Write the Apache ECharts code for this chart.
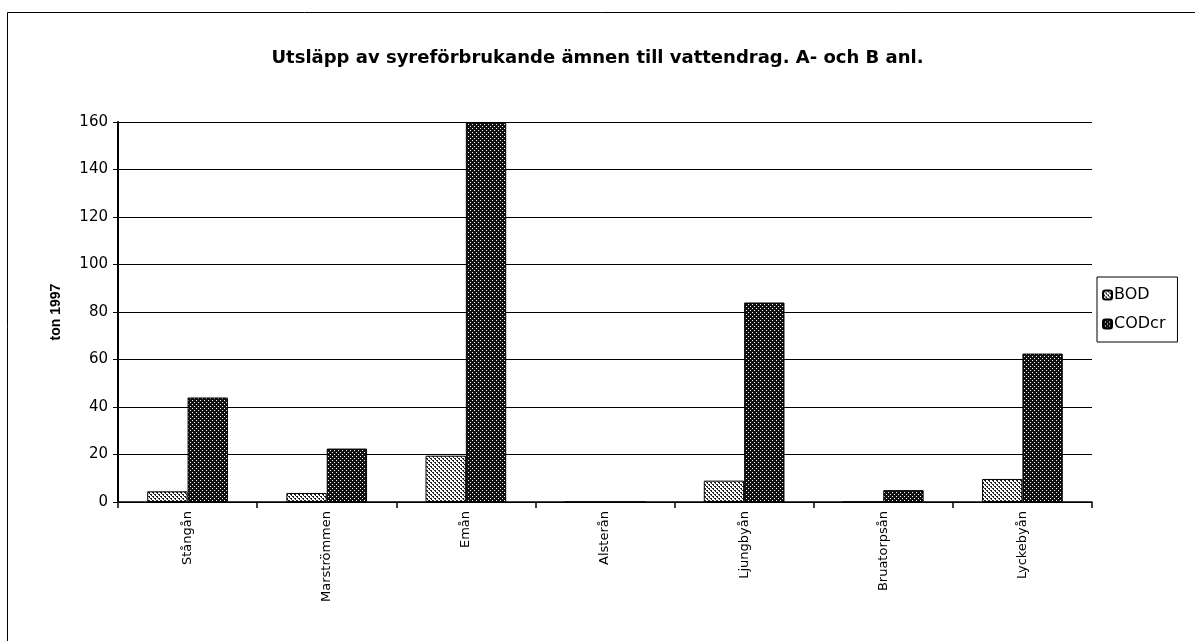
<!DOCTYPE html>
<html>
<head>
<meta charset="utf-8">
<script src="https://cdn.jsdelivr.net/npm/echarts@6/dist/echarts.min.js"></script>
<style>
  html, body { margin: 0; padding: 0; background: #fff; }
  #chart { width: 1195px; height: 641px; }
</style>
</head>
<body>
<div id="chart"></div>
<script>
var categories = ['Stångån', 'Marströmmen', 'Emån', 'Alsterån', 'Ljungbyån', 'Bruatorpsån', 'Lyckebyån'];
var bod = [4.5, 3.8, 19.5, 0, 9, 0, 9.7];
var codcr = [44, 22.5, 160, 0, 84, 5, 62.5];
var yTicks = [0, 20, 40, 60, 80, 100, 120, 140, 160];

// scanned-print style fills
function hatch(dark) {
  var c = document.createElement('canvas');
  c.width = 4; c.height = 4;
  var g = c.getContext('2d');
  g.fillStyle = dark ? '#111' : '#fff';
  g.fillRect(0, 0, 4, 4);
  g.fillStyle = dark ? '#fff' : '#222';
  if (dark) {
    g.fillRect(0, 0, 1, 1);
    g.fillRect(2, 2, 1, 1);
  } else {
    g.fillRect(0, 0, 2, 1);
    g.fillRect(2, 2, 2, 1);
    g.fillRect(1, 1, 1, 1);
    g.fillRect(3, 3, 1, 1);
  }
  return { image: c, repeat: 'repeat' };
}

// the scan is stretched sideways, so a wide face fits it better
var font = '"DejaVu Sans", Arial, sans-serif';
var chart = echarts.init(document.getElementById('chart'));
chart.setOption({
  animation: false,
  textStyle: { fontFamily: font, color: '#000' },
  title: {
    text: 'Utsläpp av syreförbrukande ämnen till vattendrag. A- och B anl.',
    left: 'center', top: 44,
    textStyle: { fontSize: 18, fontWeight: 'bold', color: '#000', fontFamily: font }
  },
  graphic: [{
    type: 'polyline',
    shape: { points: [[7.5, 641], [7.5, 12.5], [1195, 12.5]] },
    style: { stroke: '#000', lineWidth: 1, fill: null }
  }],
  legend: {
    orient: 'vertical',
    left: 1097, top: 277,
    padding: [10, 12, 10, 5],
    itemWidth: 9, itemHeight: 9, itemGap: 13,
    borderColor: '#000', borderWidth: 1,
    textStyle: { fontSize: 16, color: '#000', fontFamily: font, padding: [0, 0, 0, -3] },
    data: ['BOD', 'CODcr']
  },
  grid: { left: 118, right: 103, top: 122, bottom: 139 },
  xAxis: {
    type: 'category',
    data: categories,
    axisLine: { lineStyle: { color: '#000', width: 1.5 } },
    axisTick: { show: true, length: 6, lineStyle: { color: '#000', width: 1.5 } },
    axisLabel: { rotate: 90, fontSize: 13, color: '#000', margin: 9 }
  },
  yAxis: {
    type: 'value',
    min: yTicks[0], max: yTicks[yTicks.length - 1], interval: 20,
    name: 'ton 1997',
    nameLocation: 'middle', nameGap: 55, nameRotate: 90,
    nameTextStyle: { fontSize: 14, fontWeight: 'bold', color: '#000', fontFamily: 'Arial, "Liberation Sans", sans-serif' },
    axisLine: { show: true, lineStyle: { color: '#000', width: 2 } },
    axisTick: { show: true, length: 5, lineStyle: { color: '#000' } },
    axisLabel: { fontSize: 15, color: '#000', margin: 10 },
    splitLine: { lineStyle: { color: '#000', width: 1 } }
  },
  series: [
    {
      name: 'BOD', type: 'bar', data: bod,
      barGap: '0%', barCategoryGap: '42%',
      itemStyle: { color: hatch(false), borderColor: '#000', borderWidth: 1 }
    },
    {
      name: 'CODcr', type: 'bar', data: codcr,
      itemStyle: { color: hatch(true), borderColor: '#000', borderWidth: 1 }
    }
  ]
});
</script>
</body>
</html>
